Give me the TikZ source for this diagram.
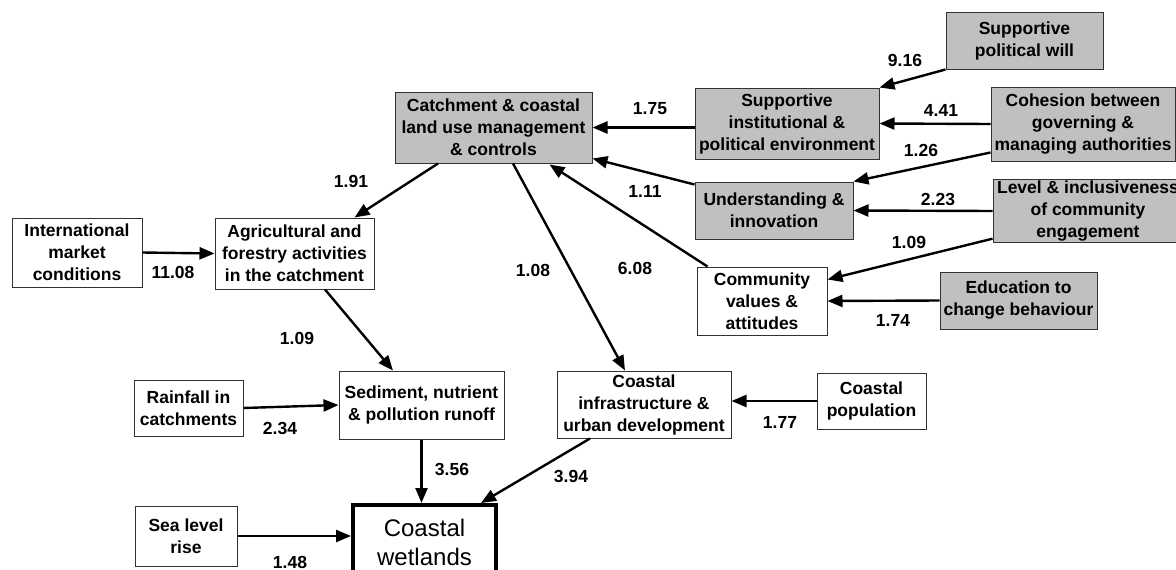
\documentclass[tikz,border=0pt]{standalone}
\usepackage{fontspec}
\setmainfont{Liberation Sans}
\usetikzlibrary{arrows.meta,calc}
\definecolor{boxgray}{RGB}{192,192,192}
\definecolor{boxline}{RGB}{50,50,50}
\newcommand\dgfont{\fontsize{17.5}{22}\selectfont\bfseries}
\newcommand\wetfont{\fontsize{24}{29}\selectfont}
\begin{document}
\begin{tikzpicture}[x=1pt,y=-1pt,
  box/.style={draw=boxline, line width=1pt, inner sep=1pt, align=center, font=\dgfont},
  gbox/.style={box, fill=boxgray},
  arr/.style={line width=2.4pt, -{Triangle[length=15pt,width=12pt]}},
  num/.style={font=\dgfont, inner sep=0pt}]
\useasboundingbox[fill=white] (0,0) rectangle (1176,570);
% boxes
\node[gbox, minimum width=157pt, minimum height=57pt] (polwill) at (1024.5,40.5) {Supportive\\political will};
\node[gbox, minimum width=184pt, minimum height=71pt] (supinst) at (787,123.5) {Supportive\\institutional \&\\political environment};
\node[gbox, minimum width=184pt, minimum height=74pt] (cohesion) at (1083,124) {Cohesion between\\governing \&\\managing authorities};
\node[gbox, minimum width=197pt, minimum height=71pt] (catch) at (493.5,127.5) {Catchment \& coastal\\land use management\\\& controls};
\node[gbox, minimum width=158pt, minimum height=57pt] (underst) at (774,210.5) {Understanding \&\\innovation};
\node[gbox, minimum width=190pt, minimum height=60pt] (level) at (1088,211) {Level \& inclusiveness\\of community\\engagement};
\node[box, minimum width=130pt, minimum height=68pt] (community) at (762,301) {Community\\values \&\\attitudes};
\node[gbox, minimum width=157pt, minimum height=57pt] (educ) at (1018.5,300.5) {Education to\\change behaviour};
\node[box, minimum width=130pt, minimum height=69pt] (intl) at (77,252.5) {International\\market\\conditions};
\node[box, minimum width=159pt, minimum height=71pt] (agri) at (294.5,253.5) {Agricultural and\\forestry activities\\in the catchment};
\node[box, minimum width=109pt, minimum height=56pt] (rain) at (188.5,408) {Rainfall in\\catchments};
\node[box, minimum width=165pt, minimum height=68pt] (sed) at (421.5,405) {Sediment, nutrient\\\& pollution runoff};
\node[box, minimum width=102pt, minimum height=60pt] (sea) at (186,536) {Sea level\\rise};
\node[draw=black, line width=4pt, align=center, inner sep=1pt, font=\wetfont, minimum width=143pt, minimum height=74pt] (wet) at (424.5,542) {Coastal\\wetlands};
\node[box, minimum width=174pt, minimum height=67pt] (infra) at (644,404.5) {Coastal\\infrastructure \&\\urban development};
\node[box, minimum width=109pt, minimum height=56pt] (coastpop) at (871.5,401) {Coastal\\population};
% connectors
\draw[arr] (polwill.south west) -- (supinst.north east);
\draw[arr] (catch.east -| supinst.west) -- (catch.east);
\draw[arr] (cohesion.west) -- (supinst.east);
\draw[arr] ($(cohesion.south west)+(0,-9)$) -- (underst.north east);
\draw[arr] ($(underst.north west)+(0,3)$) -- ($(catch.south east)+(0,-5)$);
\draw[arr] (level.west) -- (underst.east);
\draw[arr] ($(level.south west)+(0,-4)$) -- ($(community.north east)+(0,13)$);
\draw[arr] (educ.west) -- (community.east);
\draw[arr] ($(community.north west)+(11,0)$) -- ($(catch.south)+(56,1)$);
\draw[arr] ($(catch.south)+(-55.5,0)$) -- ($(agri.north east)+(-20,0)$);
\draw[arr] ($(catch.south)+(19.5,0)$) -- ($(infra.north)+(-19,0)$);
\draw[arr] (intl.east) -- (agri.west);
\draw[arr] ($(agri.south)+(30.5,0)$) -- ($(sed.north)+(-28.5,0)$);
\draw[arr] (rain.east) -- (sed.west);
\draw[arr] (sed.south) -- (sed.south |- wet.north);
\draw[arr] ($(infra.south)+(-54,0)$) -- ($(wet.north east)+(-17,0)$);
\draw[arr] (sea.east) -- (sea.east -| wet.west);
\draw[arr] (coastpop.west) -- (coastpop.west -| infra.east);
% labels
\node[num] (l916) at (905,60) {9.16};
\node[num] (l175) at (650,109) {1.75};
\node[num] (l441) at (941,110) {4.41};
\node[num] (l126) at (921,150) {1.26};
\node[num] (l111) at (645,191) {1.11};
\node[num] (l223) at (938,199) {2.23};
\node[num] (l109a) at (909,242) {1.09};
\node[num] (l174) at (893,320) {1.74};
\node[num] (l608) at (635,268) {6.08};
\node[num] (l191) at (351,181) {1.91};
\node[num] (l108) at (533,270) {1.08};
\node[num] (l1108) at (173,272) {11.08};
\node[num] (l109b) at (297,338) {1.09};
\node[num] (l234) at (280,428) {2.34};
\node[num] (l356) at (452,469) {3.56};
\node[num] (l394) at (571,476) {3.94};
\node[num] (l148) at (290,562) {1.48};
\node[num] (l177) at (780,422) {1.77};
\end{tikzpicture}
\end{document}
